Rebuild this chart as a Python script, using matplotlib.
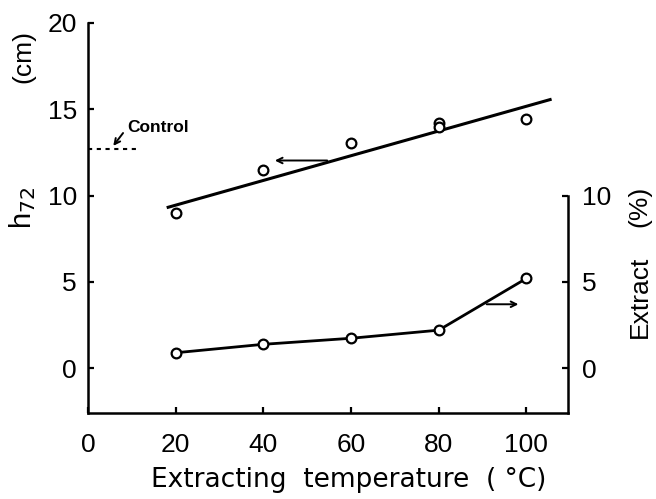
import matplotlib
matplotlib.use("Agg")
import matplotlib.pyplot as plt

plt.rcParams['font.family'] = ['Liberation Sans', 'DejaVu Sans']

# h72 (cm) theo nhiệt độ chiết
temps = [20, 40, 60, 80, 80, 100]
h72 = [9.0, 11.48, 13.06, 14.18, 13.97, 14.42]
fit_x = [18.3, 105.4]
fit_y = [9.32, 15.56]

# Extract (%)
ext_temps = [20, 40, 60, 80, 100]
extract = [0.89, 1.38, 1.73, 2.2, 5.2]

control_h = 12.7
xticks = [0, 20, 40, 60, 80, 100]
yticks = [0, 5, 10, 15, 20]
rticks = [0, 5, 10]

fig = plt.figure(figsize=(6.56, 4.99), dpi=100)
ax = fig.add_axes([0.134, 0.172, 0.732, 0.782])
ax.set_xlim(0, 109.5)
ax.set_ylim(-2.61, 20)

ax.plot(fit_x, fit_y, color='black', lw=2.2)
ax.plot(temps, h72, 'o', mfc='white', mec='black', ms=7, mew=1.6)
ax.plot(ext_temps, extract, '-o', color='black', lw=2.0, mfc='white', mec='black', ms=7, mew=1.6)

# control
ax.plot([0, 11.7], [control_h, control_h], color='black', lw=1.5, dashes=(2, 2.2))
ax.text(9.0, 13.95, 'Control', fontsize=12.5, fontweight='bold', va='center', ha='left')
ax.annotate('', xy=(5.4, 12.75), xytext=(8.4, 13.75),
            arrowprops=dict(arrowstyle='->', lw=1.4, color='black'))

# mũi tên chỉ trục
ax.annotate('', xy=(42.0, 12.03), xytext=(55.2, 12.03),
            arrowprops=dict(arrowstyle='->', lw=1.4, color='black'))
ax.annotate('', xy=(98.8, 3.7), xytext=(90.3, 3.7),
            arrowprops=dict(arrowstyle='->', lw=1.4, color='black'))

ax.spines['top'].set_visible(False)
ax.spines['left'].set_bounds(-2.61, 20)
ax.spines['right'].set_bounds(-2.61, 10)
for s in ['left', 'right', 'bottom']:
    ax.spines[s].set_linewidth(1.8)

ax.set_xticks(xticks)
ax.set_yticks(yticks)
ax.tick_params(direction='in', length=4, width=1.6, labelsize=19)
ax.tick_params(axis='x', pad=14)
ax.tick_params(axis='y', pad=8)

ax2 = ax.twinx()
ax2.set_ylim(-2.61, 20)
for s in ['top', 'left', 'bottom', 'right']:
    ax2.spines[s].set_visible(False)
ax2.set_yticks(rticks)
ax2.tick_params(direction='in', length=4, width=1.6, labelsize=19, pad=10)

fig.text(0.035, 0.886, '(cm)', rotation=90, fontsize=19, ha='center', va='center')
fig.text(0.035, 0.583, 'h$_{72}$', rotation=90, fontsize=21, ha='center', va='center')
fig.text(0.975, 0.405, 'Extract', rotation=90, fontsize=19, ha='center', va='center')
fig.text(0.975, 0.587, '(%)', rotation=90, fontsize=19, ha='center', va='center')
fig.text(0.532, 0.038, 'Extracting  temperature  ( °C)', fontsize=19,
         family='DejaVu Sans', ha='center', va='center')

fig.savefig('out.png', dpi=100)
